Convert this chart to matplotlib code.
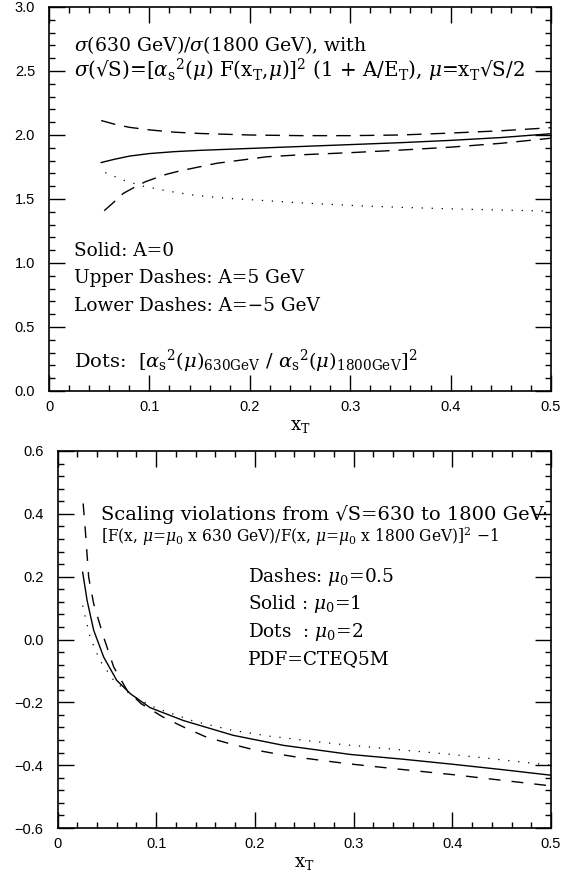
import matplotlib
matplotlib.use("Agg")
import matplotlib.pyplot as plt
from matplotlib.ticker import MultipleLocator, FixedLocator, FixedFormatter

plt.rcParams['mathtext.fontset'] = 'dejavuserif'

# ---------------- data: top panel ----------------
top_solid_x = [0.052, 0.065, 0.08, 0.10, 0.125, 0.15, 0.20, 0.25, 0.30, 0.35, 0.40, 0.45, 0.50]
top_solid_y = [1.785, 1.81, 1.835, 1.855, 1.87, 1.88, 1.895, 1.91, 1.925, 1.94, 1.958, 1.98, 2.01]

top_upper_x = [0.052, 0.065, 0.08, 0.10, 0.125, 0.15, 0.20, 0.25, 0.30, 0.35, 0.40, 0.45, 0.50]
top_upper_y = [2.113, 2.085, 2.06, 2.04, 2.022, 2.012, 2.0, 1.995, 1.995, 2.0, 2.015, 2.033, 2.057]

top_lower_x = [0.055, 0.064, 0.074, 0.085, 0.096, 0.107, 0.117, 0.13, 0.167, 0.217, 0.25,
               0.30, 0.35, 0.40, 0.45, 0.50]
top_lower_y = [1.409, 1.471, 1.544, 1.591, 1.635, 1.666, 1.693, 1.719, 1.779, 1.83, 1.845,
               1.862, 1.882, 1.905, 1.935, 1.975]

top_dots_x = [0.056, 0.075, 0.094, 0.12, 0.144, 0.175, 0.21, 0.25, 0.306, 0.35, 0.40, 0.45, 0.50]
top_dots_y = [1.706, 1.645, 1.60, 1.56, 1.53, 1.507, 1.49, 1.47, 1.448, 1.435, 1.423, 1.414, 1.405]

# ---------------- data: bottom panel ----------------
bot_solid_x = [0.0255, 0.030, 0.0367, 0.0468, 0.060, 0.074, 0.0938, 0.1276, 0.178, 0.229,
               0.297, 0.35, 0.40, 0.45, 0.50]
bot_solid_y = [0.214, 0.124, 0.029, -0.056, -0.130, -0.173, -0.217, -0.258, -0.305, -0.337,
               -0.366, -0.381, -0.397, -0.414, -0.432]

bot_dash_x = [0.026, 0.0282, 0.0316, 0.0367, 0.0468, 0.057, 0.0705, 0.085, 0.107, 0.128,
              0.151, 0.175, 0.199, 0.222, 0.246, 0.273, 0.293, 0.35, 0.40, 0.45, 0.50]
bot_dash_y = [0.433, 0.347, 0.198, 0.113, 0.007, -0.088, -0.162, -0.205, -0.247, -0.279,
              -0.311, -0.332, -0.351, -0.364, -0.376, -0.387, -0.395, -0.414, -0.43, -0.448, -0.466]

bot_dots_x = [0.0255, 0.033, 0.043, 0.057, 0.075, 0.099, 0.138, 0.177, 0.2155, 0.256, 0.288,
              0.35, 0.40, 0.45, 0.50]
bot_dots_y = [0.108, 0.007, -0.067, -0.13, -0.178, -0.217, -0.26, -0.289, -0.308, -0.323,
              -0.334, -0.352, -0.366, -0.383, -0.40]

top_xticks = [0, 0.1, 0.2, 0.3, 0.4, 0.5]
top_xticklabels = ["0", "0.1", "0.2", "0.3", "0.4", "0.5"]
top_yticks = [0.0, 0.5, 1.0, 1.5, 2.0, 2.5, 3.0]
top_yticklabels = ["0.0", "0.5", "1.0", "1.5", "2.0", "2.5", "3.0"]
bot_yticks = [-0.6, -0.4, -0.2, 0.0, 0.2, 0.4, 0.6]
bot_yticklabels = ["\u22120.6", "\u22120.4", "\u22120.2", "0.0", "0.2", "0.4", "0.6"]

SERIF = ['DejaVu Serif']
SANS = ['Liberation Sans', 'DejaVu Sans']

fig = plt.figure(figsize=(5.63, 8.77), dpi=100)
ax1 = fig.add_axes([49/563, 1-391/877, (551-49)/563, (391-7)/877])
ax2 = fig.add_axes([57.5/563, 1-828/877, (551-57.5)/563, (828-451)/877])


def style(ax, xmin, xmax, ymin, ymax, yticks, yticklabels, yminor):
    ax.set_xlim(xmin, xmax)
    ax.set_ylim(ymin, ymax)
    ax.xaxis.set_major_locator(FixedLocator(top_xticks))
    ax.xaxis.set_major_formatter(FixedFormatter(top_xticklabels))
    ax.yaxis.set_major_locator(FixedLocator(yticks))
    ax.yaxis.set_major_formatter(FixedFormatter(yticklabels))
    ax.xaxis.set_minor_locator(MultipleLocator(0.02))
    ax.yaxis.set_minor_locator(MultipleLocator(yminor))
    ax.tick_params(which='both', direction='in', top=True, right=True, width=1.0, color='black')
    ax.tick_params(which='major', length=11.5)
    ax.tick_params(which='minor', length=4.5)
    ax.tick_params(axis='y', which='major', pad=10)
    ax.tick_params(axis='x', which='major', pad=6.5)
    for lab in ax.get_xticklabels() + ax.get_yticklabels():
        lab.set_family(SANS)
        lab.set_fontsize(10.5)
    for s in ax.spines.values():
        s.set_linewidth(1.2)
    ax.set_xlabel(r"x$_{\rm T}$", family=SERIF, fontsize=13, labelpad=2)


style(ax1, 0, 0.5, 0, 3.0, top_yticks, top_yticklabels, 0.1)
style(ax2, 0, 0.5, -0.6, 0.6, bot_yticks, bot_yticklabels, 0.04)

# top panel curves
ax1.plot(top_solid_x, top_solid_y, color='black', lw=1.0)
ax1.plot(top_upper_x, top_upper_y, color='black', lw=1.0, linestyle=(0, (10.5, 6.5)))
ax1.plot(top_lower_x, top_lower_y, color='black', lw=1.0, linestyle=(0, (10.5, 6.5)))
ax1.plot(top_dots_x, top_dots_y, color='black', lw=0.9, linestyle=(0, (1, 7)))

# bottom panel curves
ax2.plot(bot_solid_x, bot_solid_y, color='black', lw=1.0)
ax2.plot(bot_dash_x, bot_dash_y, color='black', lw=1.0, linestyle=(0, (8.5, 8)))
ax2.plot(bot_dots_x, bot_dots_y, color='black', lw=0.9, linestyle=(0, (1, 7)))

# top panel text
tk = dict(family=SERIF, va='center', ha='left')
ax1.text(0.0247, 2.70, r"$\sigma$(630 GeV)/$\sigma$(1800 GeV), with", fontsize=13.6, **tk)
ax1.text(0.0247, 2.505,
         r"$\sigma$(√S)=[$\alpha_{\rm s}{}^{2}$($\mu$) F(x$_{\rm T}$,$\mu$)]$^{2}$ (1 + A/E$_{\rm T}$), $\mu$=x$_{\rm T}$√S/2",
         fontsize=14.3, **tk)
ax1.text(0.0247, 1.096, "Solid: A=0", fontsize=13.3, **tk)
ax1.text(0.0247, 0.879, "Upper Dashes: A=5 GeV", fontsize=13.3, **tk)
ax1.text(0.0247, 0.663, "Lower Dashes: A=\u22125 GeV", fontsize=13.3, **tk)
ax1.text(0.0247, 0.235,
         r"Dots:  [$\alpha_{\rm s}{}^{2}$($\mu$)$_{\rm 630GeV}$ / $\alpha_{\rm s}{}^{2}$($\mu$)$_{\rm 1800GeV}$]$^{2}$",
         fontsize=14.0, **tk)

# bottom panel text
ax2.text(0.0438, 0.398, "Scaling violations from √S=630 to 1800 GeV:", family=SERIF,
         fontsize=14.0, va='center', ha='left')
ax2.text(0.0438, 0.327,
         r"[F(x, $\mu$=$\mu_0$ x 630 GeV)/F(x, $\mu$=$\mu_0$ x 1800 GeV)]$^2$ $-$1",
         family=SERIF, fontsize=11.2, va='center', ha='left')
bk = dict(family=SERIF, fontsize=13.3, va='center', ha='left')
ax2.text(0.193, 0.200, r"Dashes: $\mu_0$=0.5", **bk)
ax2.text(0.193, 0.114, r"Solid : $\mu_0$=1", **bk)
ax2.text(0.193, 0.024, r"Dots  : $\mu_0$=2", **bk)
ax2.text(0.193, -0.063, "PDF=CTEQ5M", **bk)

fig.savefig("out.png", dpi=100)
